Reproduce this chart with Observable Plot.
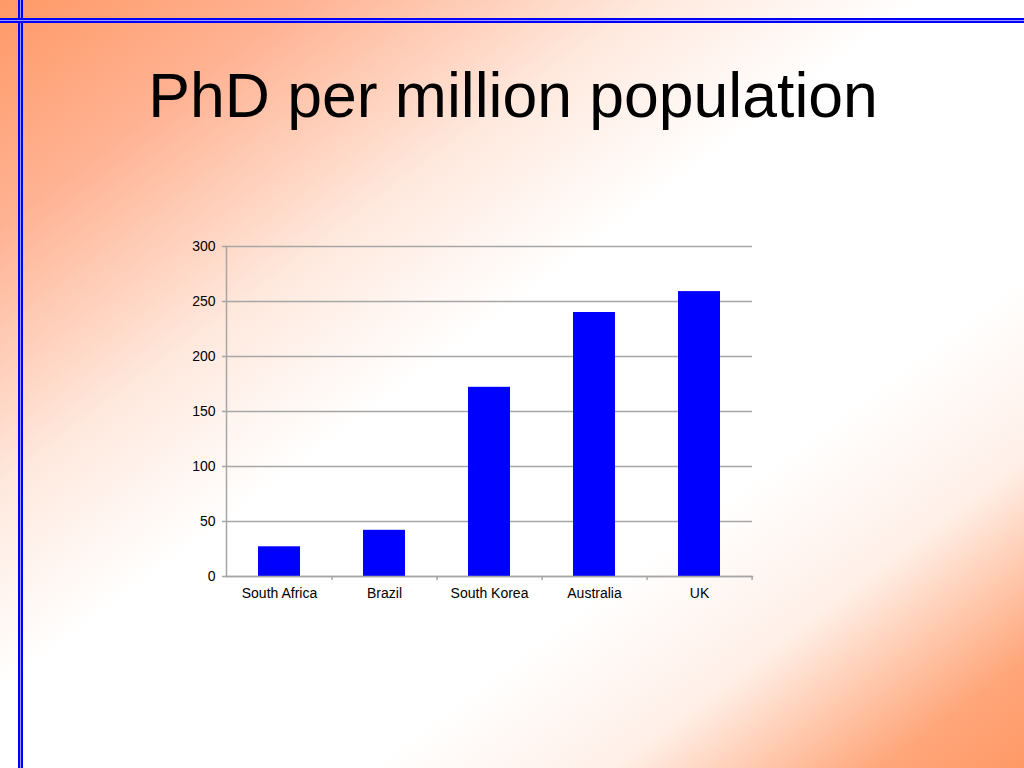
<!DOCTYPE html>
<html>
<head>
<meta charset="utf-8">
<script src="https://cdn.jsdelivr.net/npm/d3@7"></script>
<script src="https://cdn.jsdelivr.net/npm/@observablehq/plot@0.6"></script>
<style>
  html, body { margin: 0; padding: 0; }
  body {
    width: 1024px; height: 768px; overflow: hidden; position: relative;
    background: linear-gradient(to bottom right,
      #ff9966 0%, #ffb394 15%, #ffe9de 32%, #ffffff 45%, #ffffff 68%,
      #ffefe7 80%, #ffa67a 93%, #ff9966 100%);
    font-family: "Liberation Sans", Arial, sans-serif;
  }
  .vline { position: absolute; left: 18px; top: 0; width: 1px; height: 768px;
    background: #9a9aff; border-left: 2px solid #0000ff; border-right: 2px solid #0000ff; }
  .hline { position: absolute; top: 18px; left: 0; height: 1px; width: 1024px;
    background: #9a9aff; border-top: 2px solid #0000ff; border-bottom: 2px solid #0000ff; }
  #title { position: absolute; left: 0; width: 1026px; top: 64px; text-align: center;
    font-size: 62.5px; line-height: 62px; color: #000; }
  #chart { position: absolute; left: 0; top: 200px; }
</style>
</head>
<body>
<div class="vline"></div>
<div class="hline"></div>
<div id="title">PhD per million population</div>
<div id="chart"></div>
<script>
const categories = ["South Africa", "Brazil", "South Korea", "Australia", "UK"];
const values = [27, 42, 172, 240, 259];
const yTicks = [0, 50, 100, 150, 200, 250, 300];

const data = categories.map((c, i) => ({country: c, value: values[i]}));

const width = 1024, height = 440;
const marginLeft = 226, marginRight = 272;
const step = (width - marginLeft - marginRight) / categories.length;
const gray = "#a6a6a6";

const chart = Plot.plot({
  width, height,
  marginTop: 46, marginBottom: 64, marginLeft, marginRight,
  style: {background: "transparent", fontFamily: "'Liberation Sans', Arial, sans-serif", fontSize: "14px", color: "#000", overflow: "visible"},
  x: {domain: categories, paddingInner: 0.6, paddingOuter: 0.3, label: null},
  y: {domain: [0, 300], label: null},
  marks: [
    Plot.gridY(yTicks, {stroke: gray, strokeOpacity: 1, strokeWidth: 1.5}),
    Plot.barY(data, {x: "country", y: "value", fill: "#0000ff"}),
    Plot.axisY(yTicks, {tickSize: 4, tickPadding: 7, stroke: gray, strokeWidth: 1.5, fill: "#000", label: null}),
    Plot.axisX({tickSize: 0, tickPadding: 12, fill: "#000", label: null}),
    Plot.axisX({tickSize: 4, dx: step / 2, stroke: gray, strokeWidth: 1.5, tickFormat: () => "", label: null}),
    Plot.frame({anchor: "left", stroke: gray, strokeWidth: 1.5}),
    Plot.frame({anchor: "bottom", stroke: gray, strokeWidth: 1.5})
  ]
});
document.getElementById("chart").appendChild(chart);
</script>
</body>
</html>
